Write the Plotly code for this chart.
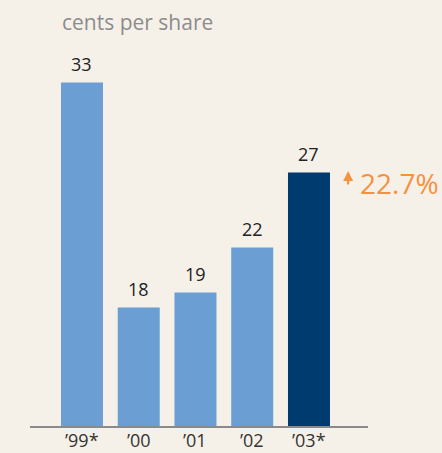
import plotly.graph_objects as go

# data
years = ["’99*", "’00", "’01", "’02", "’03*"]
cents = [33, 18, 19, 22, 27]
growth_label = "22.7%"

LIGHT = "#6B9FD4"
DARK = "#003B6F"
ORANGE = "#F5923E"
BG = "#F5F1E9"
FONT = "Open Sans"

colors = [LIGHT] * (len(years) - 1) + [DARK]

fig = go.Figure()
fig.add_trace(go.Bar(
    x=list(range(len(years))),
    y=cents,
    marker=dict(color=colors, line=dict(width=0)),
    width=0.74,
    base=0,
    hoverinfo="skip",
))

# value labels above bars
for i, v in enumerate(cents):
    fig.add_annotation(
        x=i, y=v, text=str(v), showarrow=False,
        yanchor="bottom", yshift=5,
        font=dict(family=FONT, size=18, color="#222222"),
    )

# category labels under the axis (kept inside the page)
for i, lab in enumerate(years):
    fig.add_annotation(
        x=i, xref="x", y=0, yref="paper", text=lab, showarrow=False,
        yanchor="top", yshift=-1, borderpad=0,
        font=dict(family=FONT, size=18, color="#333333"),
    )

# growth callout: arrow + percentage
fig.add_annotation(
    x=4.69, y=27.1, ax=0, ay=15, text="",
    showarrow=True, arrowhead=2, arrowsize=0.9, arrowwidth=2.2,
    arrowcolor=ORANGE,
)
fig.add_annotation(
    x=4.86, y=26.3, xanchor="left", yanchor="middle", showarrow=False,
    text=growth_label,
    font=dict(family=FONT, size=28, color=ORANGE),
)

# title
fig.add_annotation(
    xref="paper", yref="paper", x=0.088, y=1.104,
    xanchor="left", yanchor="middle", showarrow=False,
    text="cents per share",
    font=dict(family=FONT, size=21, color="#8C8C8C"),
)

fig.update_layout(
    width=442, height=453,
    paper_bgcolor=BG, plot_bgcolor=BG,
    showlegend=False,
    margin=dict(l=30, r=74, t=60, b=27, autoexpand=False),
    bargap=0.26,
)
fig.update_xaxes(
    range=[-0.916, 5.04], automargin=False, showticklabels=False,
    showline=True, linecolor="#8A8A8A", linewidth=2,
    showgrid=False, zeroline=False, ticks="",
)
fig.update_yaxes(
    range=[10.1, 34.5], visible=False, showgrid=False, zeroline=False,
    automargin=False,
)

fig.write_html(
    "out.html",
    config={"displayModeBar": False},
    post_script="document.body.style.margin='0';",
)
